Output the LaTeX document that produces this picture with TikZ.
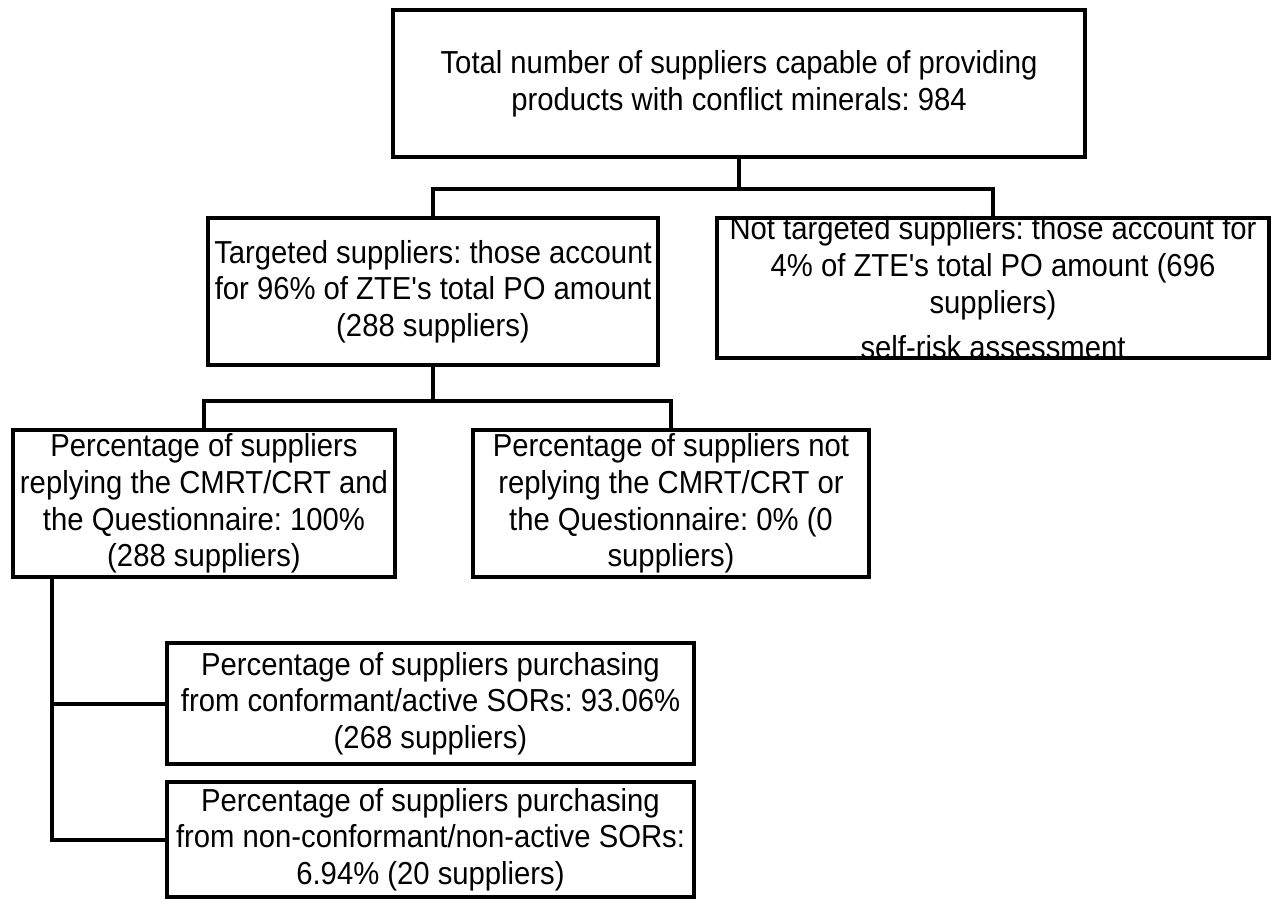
\documentclass[tikz,border=0pt]{standalone}
\usepackage{fontspec}
\setmainfont{Liberation Sans}[Ligatures=TeXOff, FakeStretch=0.92]
\frenchspacing

\tikzset{
  box/.style={draw, line width=4.5pt, align=center, inner sep=0pt,
    font=\fontsize{31.8}{36.7}\selectfont},
  txt/.style={align=center, inner sep=0pt, font=\fontsize{31.8}{37}\selectfont},
  link/.style={line width=4pt},
}

\begin{document}
\begin{tikzpicture}[x=1pt, y=-1pt]
			\useasboundingbox (0,0) rectangle (1278,898);
			\coordinate (T) at (739,83.5);
			\coordinate (A) at (433,291.5);
			\coordinate (B) at (993,288);
			\coordinate (C) at (204,503.5);
			\coordinate (D) at (671,503.5);
			\coordinate (E) at (430.5,703.5);
			\coordinate (F) at (430.5,839.5);
			\coordinate (R) at (52,577);
			
			% Boxes
			\node[box, minimum width=692pt, minimum height=147pt] (top) at (T)
				{Total number of suppliers capable of providing\\products with conflict minerals: 984};
			\node[box, minimum width=450pt, minimum height=147pt] (targ) at (A)
				{Targeted suppliers: those account\\for 96\% of ZTE's total PO amount\\(288 suppliers)};
			\node[txt] (nottxt) at (B)
				{Not targeted suppliers: those account for\\4\% of ZTE's total PO amount (696\\suppliers)\\[8pt]self-risk assessment};
			\node[box, minimum width=552pt, minimum height=140pt] (nott) at (B) {};
			\node[box, minimum width=382pt, minimum height=147pt] (reply) at (C)
				{Percentage of suppliers\\replying the CMRT/CRT and\\the Questionnaire: 100\%\\(288 suppliers)};
			\node[box, minimum width=396pt, minimum height=147pt] (noreply) at (D)
				{Percentage of suppliers not\\replying the CMRT/CRT or\\the Questionnaire: 0\% (0\\suppliers)};
			\node[box, minimum width=527pt, minimum height=121pt] (pur1) at (E)
				{Percentage of suppliers purchasing\\from conformant/active SORs: 93.06\%\\(268 suppliers)};
			\node[box, minimum width=527pt, minimum height=115pt] (pur2) at (F)
				{Percentage of suppliers purchasing\\from non-conformant/non-active SORs:\\6.94\% (20 suppliers)};
			
			% Connectors
			\draw[link] (top.south) -- ++(0,30) -| (targ.north);
			\draw[link] (top.south) -- ++(0,30) -| (nott.north);
			\draw[link] (targ.south) -- ++(0,34) -| (reply.north);
			\draw[link] (targ.south) -- ++(0,34) -| (noreply.north);
			\draw[link] (R) |- (pur1.west);
			\draw[link] (R) |- (pur2.west);
		\end{tikzpicture}
\end{document}
